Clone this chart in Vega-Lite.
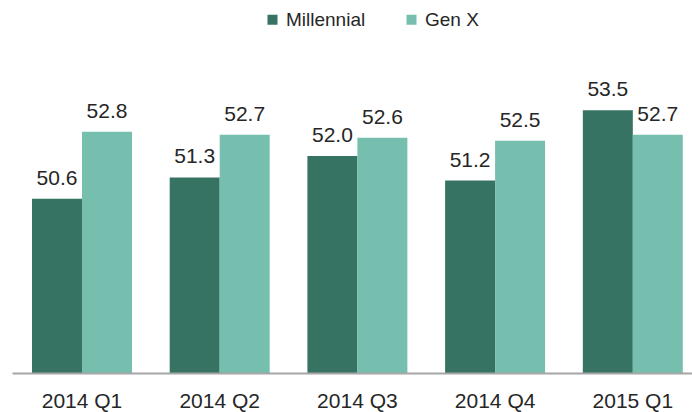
{
  "$schema": "https://vega.github.io/schema/vega-lite/v6.json",
  "width": 680,
  "height": 333,
  "autosize": {"type": "none"},
  "padding": {"left": 12, "top": 40, "right": 0, "bottom": 39},
  "background": "white",
  "config": {
    "view": {"stroke": null},
    "font": "Liberation Sans",
    "text": {"font": "Liberation Sans"}
  },
  "data": {
    "values": [
      {"quarter": "2014 Q1", "series": "Millennial", "value": 50.6},
      {"quarter": "2014 Q1", "series": "Gen X", "value": 52.8},
      {"quarter": "2014 Q2", "series": "Millennial", "value": 51.3},
      {"quarter": "2014 Q2", "series": "Gen X", "value": 52.7},
      {"quarter": "2014 Q3", "series": "Millennial", "value": 52.0},
      {"quarter": "2014 Q3", "series": "Gen X", "value": 52.6},
      {"quarter": "2014 Q4", "series": "Millennial", "value": 51.2},
      {"quarter": "2014 Q4", "series": "Gen X", "value": 52.5},
      {"quarter": "2015 Q1", "series": "Millennial", "value": 53.5},
      {"quarter": "2015 Q1", "series": "Gen X", "value": 52.7}
    ]
  },
  "encoding": {
    "x": {
      "field": "quarter",
      "type": "nominal",
      "sort": null,
      "scale": {"paddingInner": 0.274, "paddingOuter": 0.106, "align": 0.685},
      "axis": {
        "title": null,
        "labelAngle": 0,
        "ticks": false,
        "domainColor": "#a6a6a6",
        "domainWidth": 2,
        "labelFontSize": 21,
        "labelColor": "#262626",
        "labelPadding": 17,
        "grid": false,
        "zindex": 1
      }
    },
    "xOffset": {
      "field": "series",
      "type": "nominal",
      "sort": ["Millennial", "Gen X"],
      "scale": {"paddingInner": 0, "paddingOuter": 0}
    },
    "y": {
      "field": "value",
      "type": "quantitative",
      "scale": {"domain": [44.9, 55.8], "zero": false, "nice": false},
      "axis": null
    }
  },
  "layer": [
    {
      "mark": {"type": "bar", "clip": true},
      "encoding": {
        "color": {
          "field": "series",
          "type": "nominal",
          "sort": ["Millennial", "Gen X"],
          "scale": {"domain": ["Millennial", "Gen X"], "range": ["#367363", "#76bead"]},
          "legend": {
            "title": null,
            "orient": "none",
            "direction": "horizontal",
            "legendX": 251,
            "legendY": -30,
            "symbolType": "square",
            "symbolSize": 100,
            "symbolStrokeWidth": 0,
            "labelFontSize": 19,
            "labelColor": "#262626",
            "labelOffset": 4,
            "columnPadding": 36
          }
        }
      }
    },
    {
      "mark": {"type": "text", "baseline": "alphabetic", "dy": -14, "fontSize": 21, "color": "#262626"},
      "encoding": {
        "text": {"field": "value", "type": "quantitative", "format": ".1f"}
      }
    }
  ]
}
